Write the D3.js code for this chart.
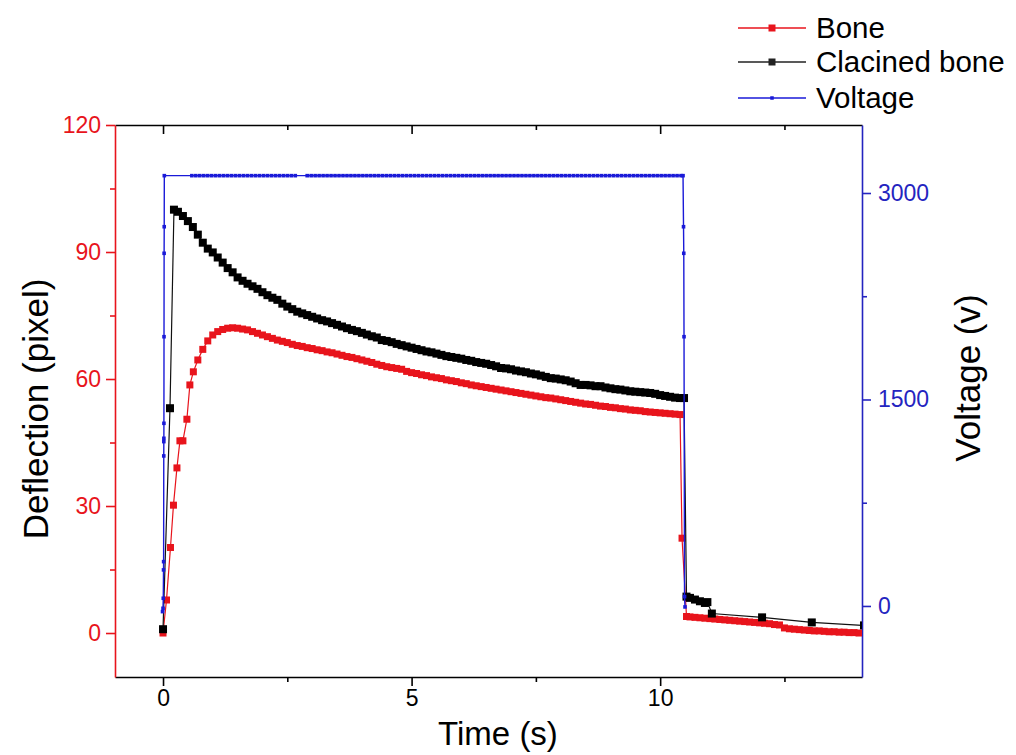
<!DOCTYPE html>
<html><head><meta charset="utf-8">
<script src="https://cdn.jsdelivr.net/npm/d3@7"></script>
<style>body{margin:0;background:#fff}svg{display:block;font-family:"Liberation Sans",Arial,sans-serif}</style>
</head><body><svg id="c" width="1016" height="755"></svg>
<script>
// ---- data ----
const seriesNames = ["Bone", "Clacined bone", "Voltage"];
const timeTicks = [0, 5, 10];
const timeMinor = [2.5, 7.5, 12.5];
const deflTicks = [0, 30, 60, 90, 120];
const deflMinor = [15, 45, 75, 105];
const voltTicks = [0, 1500, 3000];
const voltMinor = [750, 2250];

// Bone deflection [time s, pixel]
const bone = [
[0,0],[0.07,7.8],[0.15,20.2],[0.21,30.2],[0.28,39.0],[0.34,45.4],[0.40,45.4],[0.48,50.5],[0.54,58.6],[0.61,61.7],
[0.7,64.5],[0.8,67.0],[0.9,69.0],[1.0,70.4],[1.1,71.2],[1.2,71.7],[1.3,72.0],[1.4,72.1],[1.5,72.0],[1.6,71.8],
[1.7,71.6],[1.8,71.2],[1.9,70.8],[2.0,70.4],[2.1,70.0],[2.2,69.6],[2.3,69.2],[2.4,68.9],[2.5,68.6],[2.6,68.2],
[2.7,67.9],[2.8,67.7],[2.9,67.4],[3.0,67.2],[3.1,66.9],[3.2,66.7],[3.3,66.4],[3.4,66.2],[3.5,65.9],[3.6,65.6],
[3.7,65.3],[3.8,65.1],[3.9,64.8],[4.0,64.5],[4.1,64.2],[4.2,63.9],[4.3,63.5],[4.4,63.2],[4.5,62.9],[4.6,62.7],
[4.7,62.5],[4.8,62.3],[4.9,61.8],[5.0,61.5],[5.1,61.3],[5.2,61.0],[5.3,60.8],[5.4,60.5],[5.5,60.3],[5.6,60.1],
[5.7,59.8],[5.8,59.6],[5.9,59.4],[6.0,59.1],[6.1,58.9],[6.2,58.6],[6.3,58.4],[6.4,58.2],[6.5,58.0],[6.6,57.8],
[6.7,57.6],[6.8,57.4],[6.9,57.2],[7.0,57.0],[7.1,56.8],[7.2,56.6],[7.3,56.4],[7.4,56.2],[7.5,56.0],[7.6,55.8],
[7.7,55.6],[7.8,55.5],[7.9,55.3],[8.0,55.1],[8.1,54.9],[8.2,54.7],[8.3,54.5],[8.4,54.3],[8.5,54.1],[8.6,54.0],
[8.7,53.8],[8.8,53.6],[8.9,53.5],[9.0,53.3],[9.1,53.2],[9.2,53.0],[9.3,52.9],[9.4,52.7],[9.5,52.6],[9.6,52.5],
[9.7,52.3],[9.8,52.2],[9.9,52.1],[10.0,52.0],[10.1,51.9],[10.2,51.8],[10.3,51.7],[10.4,51.6],[10.44,22.4],[10.53,3.9],
[10.6,3.8],[10.7,3.7],[10.8,3.6],[10.9,3.5],[11.0,3.4],[11.1,3.3],[11.2,3.2],[11.3,3.1],[11.4,3.0],[11.5,2.9],
[11.6,2.8],[11.7,2.7],[11.8,2.6],[11.9,2.5],[12.0,2.4],[12.1,2.3],[12.2,2.2],[12.3,2.0],[12.4,1.9],[12.5,1.2],
[12.6,1.0],[12.7,0.9],[12.8,0.8],[12.9,0.7],[13.0,0.6],[13.1,0.5],[13.2,0.5],[13.3,0.4],[13.4,0.3],[13.5,0.3],
[13.6,0.2],[13.7,0.2],[13.8,0.1],[13.9,0.1],[14.0,0.0]
];

// Calcined bone deflection [time s, pixel]
const calcined = [
[0,0.9],[0.14,53.1],[0.22,100.0],[0.3,99.5],[0.4,98.5],[0.5,97.3],[0.6,95.9],[0.7,94.1],[0.8,92.2],[0.9,90.8],
[1.0,89.9],[1.1,88.7],[1.2,87.5],[1.3,86.2],[1.4,85.2],[1.5,84.0],[1.6,83.2],[1.7,82.5],[1.8,81.9],[1.9,81.3],
[2.0,80.5],[2.1,79.8],[2.2,79.2],[2.3,78.7],[2.4,77.8],[2.5,77.1],[2.6,76.5],[2.7,75.9],[2.8,75.5],[2.9,75.1],
[3.0,74.7],[3.1,74.3],[3.2,73.9],[3.3,73.6],[3.4,73.2],[3.5,72.8],[3.6,72.4],[3.7,72.0],[3.8,71.6],[3.9,71.3],
[4.0,70.9],[4.1,70.5],[4.2,70.1],[4.3,69.8],[4.4,69.2],[4.5,69.0],[4.6,68.7],[4.7,68.3],[4.8,68.0],[4.9,67.7],
[5.0,67.4],[5.1,67.1],[5.2,66.8],[5.3,66.5],[5.4,66.3],[5.5,66.0],[5.6,65.7],[5.7,65.4],[5.8,65.2],[5.9,65.0],
[6.0,64.8],[6.1,64.5],[6.2,64.3],[6.3,64.0],[6.4,63.8],[6.5,63.6],[6.6,63.3],[6.7,63.0],[6.8,62.6],[6.9,62.5],
[7.0,62.3],[7.1,62.0],[7.2,61.8],[7.3,61.6],[7.4,61.3],[7.5,61.1],[7.6,60.8],[7.7,60.5],[7.8,60.2],[7.9,60.1],
[8.0,59.9],[8.1,59.7],[8.2,59.4],[8.3,59.0],[8.4,58.6],[8.5,58.6],[8.6,58.5],[8.7,58.3],[8.8,58.3],[8.9,58.0],
[9.0,57.8],[9.1,57.6],[9.2,57.5],[9.3,57.3],[9.4,57.1],[9.5,57.0],[9.6,56.9],[9.7,56.8],[9.8,56.7],[9.9,56.5],
[10.0,56.2],[10.1,56.0],[10.2,55.8],[10.3,55.6],[10.4,55.5],[10.48,55.5],[10.53,8.6],[10.6,8.3],[10.7,7.9],[10.8,7.5],
[10.9,7.1],[10.95,7.3],[11.04,4.6],[12.05,3.7],[13.05,2.5],[14.1,1.8]
];

// Voltage [time s, volt]
const voltage = [
[-0.01,-41],[0.0,-17],[0.005,56],[0.01,262],[0.012,322],[0.015,1090],[0.016,1194],[0.017,1218],[0.018,1327],[0.02,1956],
[0.022,2562],[0.024,2755],[0.026,3126],[0.58,3126],[0.66,3126],[0.74,3126],[0.82,3126],[0.90,3126],[0.98,3126],[1.06,3126],
[1.14,3126],[1.22,3126],[1.30,3126],[1.38,3126],[1.46,3126],[1.54,3126],[1.62,3126],[1.70,3126],[1.78,3126],[1.86,3126],
[1.94,3126],[2.02,3126],[2.10,3126],[2.18,3126],[2.26,3126],[2.34,3126],[2.42,3126],[2.50,3126],[2.58,3126],[2.66,3126],
[2.90,3126],[2.98,3126],[3.06,3126],[3.14,3126],[3.22,3126],[3.30,3126],[3.38,3126],[3.46,3126],[3.54,3126],[3.62,3126],
[3.70,3126],[3.78,3126],[3.86,3126],[3.94,3126],[4.02,3126],[4.10,3126],[4.18,3126],[4.26,3126],[4.34,3126],[4.42,3126],
[4.50,3126],[4.58,3126],[4.66,3126],[4.74,3126],[4.82,3126],[4.90,3126],[4.98,3126],[5.06,3126],[5.14,3126],[5.22,3126],
[5.30,3126],[5.38,3126],[5.46,3126],[5.54,3126],[5.62,3126],[5.70,3126],[5.78,3126],[5.86,3126],[5.94,3126],[6.02,3126],
[6.10,3126],[6.18,3126],[6.26,3126],[6.34,3126],[6.42,3126],[6.50,3126],[6.58,3126],[6.66,3126],[6.74,3126],[6.82,3126],
[6.90,3126],[6.98,3126],[7.06,3126],[7.14,3126],[7.22,3126],[7.30,3126],[7.38,3126],[7.46,3126],[7.54,3126],[7.62,3126],
[7.70,3126],[7.78,3126],[7.86,3126],[7.94,3126],[8.02,3126],[8.10,3126],[8.18,3126],[8.26,3126],[8.34,3126],[8.42,3126],
[8.50,3126],[8.58,3126],[8.66,3126],[8.74,3126],[8.82,3126],[8.90,3126],[8.98,3126],[9.06,3126],[9.14,3126],[9.22,3126],
[9.30,3126],[9.38,3126],[9.46,3126],[9.54,3126],[9.62,3126],[9.70,3126],[9.78,3126],[9.86,3126],[9.94,3126],[10.02,3126],
[10.10,3126],[10.18,3126],[10.26,3126],[10.34,3126],[10.42,3126],[10.46,3126],[10.47,2755],[10.475,2562],[10.48,1956],[10.49,68],
[10.5,-7]
];

// ---- layout ----
const RED = "#e8141c", BLACK = "#000", BLUE = "#1a1ad8", BLUEAX = "#2424c0";
const L = 115, R = 862, T = 125, B = 677;
const svg = d3.select("#c");
svg.append("rect").attr("width",1016).attr("height",755).attr("fill","#fff");

const x = d3.scaleLinear().domain([-0.966, 14.06]).range([L, R]);
const yD = d3.scaleLinear().domain([-10.39, 120]).range([B, T]);
const yV = d3.scaleLinear().domain([-516, 3494]).range([B, T]);
const fmt = d3.format("d");

svg.append("clipPath").attr("id","clip").append("rect")
  .attr("x",L).attr("y",T-6).attr("width",R-L).attr("height",B-T+6);

function styleAxis(g, color, fs){
  g.select(".domain").attr("stroke",color).attr("stroke-width",1.6);
  g.selectAll(".tick line").attr("stroke",color).attr("stroke-width",1.6);
  g.selectAll(".tick text").attr("fill",color).style("font-size",fs+"px")
   .style("font-family","'Liberation Sans',Arial,sans-serif");
}
const FS = 23;
// bottom
let g = svg.append("g").attr("transform",`translate(0,${B})`)
  .call(d3.axisBottom(x).tickValues(timeTicks).tickFormat(fmt).tickSize(9).tickPadding(4).tickSizeOuter(0));
styleAxis(g, BLACK, FS);
g = svg.append("g").attr("transform",`translate(0,${B})`)
  .call(d3.axisBottom(x).tickValues(timeMinor).tickSize(5).tickFormat("").tickSizeOuter(0));
styleAxis(g, BLACK, FS); g.select(".domain").remove();
// top
g = svg.append("g").attr("transform",`translate(0,${T})`)
  .call(d3.axisBottom(x).tickValues(timeTicks).tickSize(9).tickFormat("").tickSizeOuter(0));
styleAxis(g, BLACK, FS);
g = svg.append("g").attr("transform",`translate(0,${T})`)
  .call(d3.axisBottom(x).tickValues(timeMinor).tickSize(5).tickFormat("").tickSizeOuter(0));
styleAxis(g, BLACK, FS); g.select(".domain").remove();
// left
g = svg.append("g").attr("transform",`translate(${L},0)`)
  .call(d3.axisLeft(yD).tickValues(deflTicks).tickFormat(fmt).tickSize(9).tickPadding(5).tickSizeOuter(0));
styleAxis(g, RED, FS);
g = svg.append("g").attr("transform",`translate(${L},0)`)
  .call(d3.axisLeft(yD).tickValues(deflMinor).tickSize(5).tickFormat("").tickSizeOuter(0));
styleAxis(g, RED, FS); g.select(".domain").remove();
// right
g = svg.append("g").attr("transform",`translate(${R},0)`)
  .call(d3.axisRight(yV).tickValues(voltTicks).tickFormat(fmt).tickSize(9).tickPadding(7).tickSizeOuter(0));
styleAxis(g, BLUEAX, FS);
g = svg.append("g").attr("transform",`translate(${R},0)`)
  .call(d3.axisRight(yV).tickValues(voltMinor).tickSize(5).tickFormat("").tickSizeOuter(0));
styleAxis(g, BLUEAX, FS); g.select(".domain").remove();

// axis titles
svg.append("text").attr("x",498).attr("y",745).attr("text-anchor","middle")
  .style("font-size","33px").attr("fill","#000").text("Time (s)");
svg.append("text").attr("transform","translate(48,409) rotate(-90)").attr("text-anchor","middle")
  .style("font-size","35px").attr("fill","#000").text("Deflection (pixel)");
svg.append("text").attr("transform","translate(980,378) rotate(-90)").attr("text-anchor","middle")
  .style("font-size","35px").attr("fill","#000").text("Voltage (v)");

// series
const plot = svg.append("g").attr("clip-path","url(#clip)");
function drawSeries(data, yS, color, lineW, size, markerFill){
  const line = d3.line().x(d=>x(d[0])).y(d=>yS(d[1]));
  plot.append("path").datum(data).attr("d",line).attr("fill","none")
    .attr("stroke",color).attr("stroke-width",lineW);
  plot.append("g").selectAll("rect").data(data).join("rect")
    .attr("x",d=>x(d[0])-size/2).attr("y",d=>yS(d[1])-size/2)
    .attr("width",size).attr("height",size).attr("fill",markerFill);
}
drawSeries(bone, yD, RED, 1.2, 7, RED);
drawSeries(calcined, yD, "#111", 1.2, 8, BLACK);
drawSeries(voltage, yV, BLUE, 1.4, 3.6, BLUE);

// legend
const legColors = [RED, "#222", BLUE];
const legMarker = [7, 7, 3.5];
const legY = [28, 62, 98];
seriesNames.forEach((name,i)=>{
  const lg = svg.append("g");
  lg.append("line").attr("x1",738).attr("x2",806).attr("y1",legY[i]).attr("y2",legY[i])
    .attr("stroke",legColors[i]).attr("stroke-width",1.3);
  lg.append("rect").attr("x",772-legMarker[i]/2).attr("y",legY[i]-legMarker[i]/2)
    .attr("width",legMarker[i]).attr("height",legMarker[i]).attr("fill",legColors[i]);
  lg.append("text").attr("x",816).attr("y",legY[i]).attr("dy","0.35em")
    .style("font-size","29.5px").attr("fill","#000").text(name);
});
</script></body></html>
